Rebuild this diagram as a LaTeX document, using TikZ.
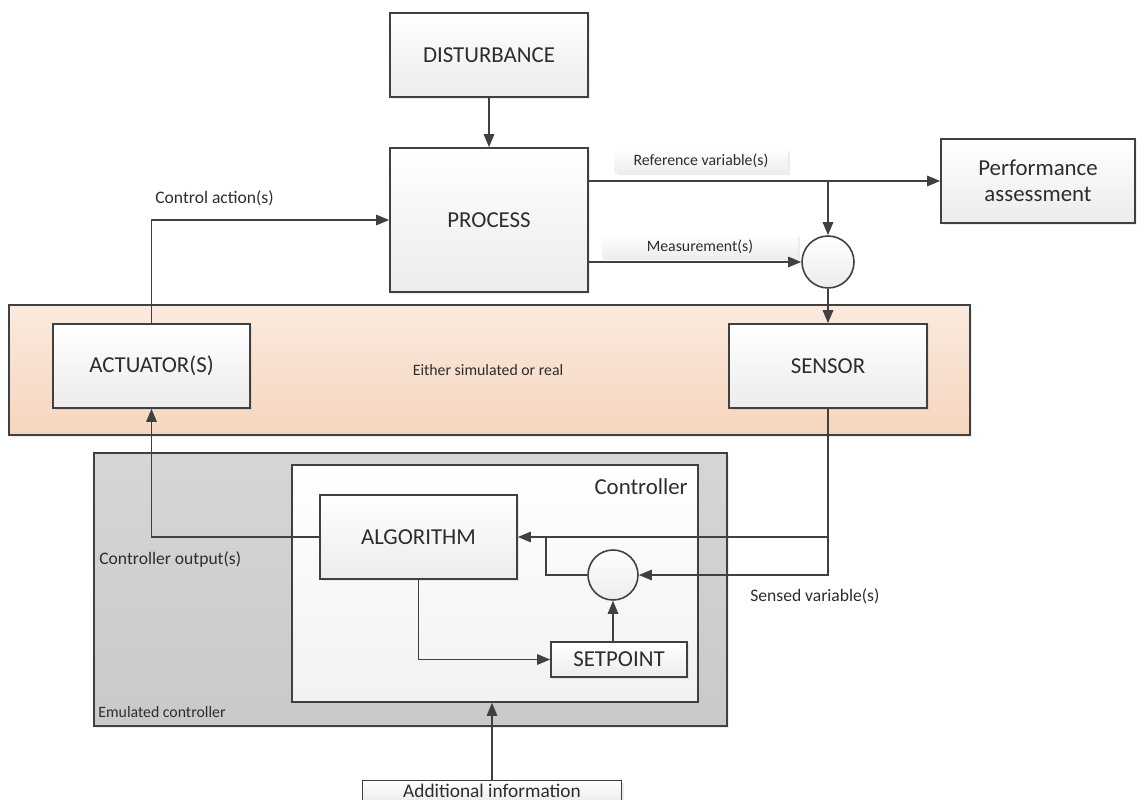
\documentclass[tikz,border=0pt]{standalone}
\usepackage{fontspec}
\setmainfont{Carlito}
\usetikzlibrary{positioning,calc,arrows.meta,shadows}
\definecolor{LineGrey}{RGB}{64,64,64}
\definecolor{TextGrey}{RGB}{45,45,45}
\definecolor{BandTop}{RGB}{250,234,222}
\definecolor{BandBot}{RGB}{246,213,190}
\definecolor{EmuTop}{RGB}{214,214,214}
\definecolor{EmuBot}{RGB}{201,201,201}
\definecolor{BoxBot}{RGB}{236,236,236}
\definecolor{TagGrey}{RGB}{238,238,238}
\tikzset{softshadow/.style={drop shadow={shadow xshift=1.2pt,shadow yshift=-1.2pt,opacity=0.15}},
blk/.style={draw=LineGrey,line width=0.9pt,top color=white,bottom color=BoxBot,text=TextGrey,font=\fontsize{13}{15}\selectfont,align=center,inner sep=2pt,softshadow},
sum/.style={circle,draw=LineGrey,line width=0.9pt,top color=white,bottom color=BoxBot,minimum size=1.04cm,inner sep=0pt},
tag/.style={top color=white,bottom color=TagGrey,text=TextGrey,font=\fontsize{9}{11}\selectfont,inner sep=0pt,softshadow},
lbl/.style={text=TextGrey,font=\fontsize{10}{12}\selectfont,inner sep=0pt},
wire/.style={draw=LineGrey,line width=0.9pt},
arr/.style={wire,-{Triangle[length=7.5pt,width=6pt]}}}

\begin{document}
\begin{tikzpicture}[x=0.02cm,y=-0.02cm]
\useasboundingbox (0,0) rectangle (1138,800);
% background regions
\draw[wire,top color=BandTop,bottom color=BandBot,softshadow] (9,305) rectangle (970,435);
\draw[wire,top color=EmuTop,bottom color=EmuBot,softshadow] (94,453) rectangle (727,726);
\node[draw=LineGrey,line width=0.9pt,top color=white,bottom color=BoxBot!70,minimum width=8.12cm,minimum height=4.74cm,inner sep=0pt] (ctrl) at (495,583.5) {};
% blocks
\node[blk,minimum width=3.96cm,minimum height=1.68cm] (dist) at (489,55) {DISTURBANCE};
\node[blk,minimum width=3.96cm,minimum height=2.88cm] (proc) at (489,220) {PROCESS};
\node[blk,minimum width=3.88cm,minimum height=1.68cm] (perf) at (1038,181) {Performance\\assessment};
\node[blk,minimum width=3.94cm,minimum height=1.68cm] (act) at (151.5,366) {ACTUATOR(S)};
\node[blk,minimum width=3.96cm,minimum height=1.68cm] (sens) at (828,366) {SENSOR};
\node[blk,minimum width=3.94cm,minimum height=1.68cm] (alg) at (418.5,537) {ALGORITHM};
\node[blk,minimum width=2.72cm,minimum height=0.7cm] (setp) at (619,659.5) {SETPOINT};
\node[blk,font=\fontsize{11}{13}\selectfont,minimum width=5.18cm,minimum height=0.42cm,inner sep=0pt] (info) at (492,791) {Additional information};
\node[sum] (sumA) at (828,262) {};
\node[sum,minimum size=1cm] (sumB) at (613,575) {};
\coordinate (jn) at (546,537);
% labels
\node[tag,minimum width=3.46cm,minimum height=0.48cm] (tref) at (701,161) {Reference variable(s)};
\node[tag,minimum width=3.92cm,minimum height=0.46cm] (tmeas) at (700,246.5) {Measurement(s)};
\node[lbl,anchor=west] (lact) at (155,198) {Control action(s)};
\node[lbl,font=\fontsize{9}{11}\selectfont] (lband) at (488,370) {Either simulated or real};
\node[lbl,font=\fontsize{13}{15}\selectfont,anchor=east] (lctrl) at (688,487) {Controller};
\node[lbl,anchor=west] (lout) at (99,559) {Controller output(s)};
\node[lbl,font=\fontsize{9}{11}\selectfont,anchor=west] (lemu) at (98,712) {Emulated controller};
\node[lbl,anchor=west] (lsens) at (750,596) {Sensed variable(s)};
% connectors
\draw[arr] (dist.south) -- (proc.north);
\draw[arr] (act.north) |- (proc.west);
\draw[arr] (proc.east |- perf.west) -- (perf.west);
\draw[arr] (sumA.north |- perf.west) -- (sumA.north);
\draw[arr] (proc.east |- sumA.west) -- (sumA.west);
\draw[arr] (sumA.south) -- (sens.north);
\draw[arr] (sens.south) |- (sumB.east);
\draw[arr] (sens.south |- alg.east) -- (alg.east);
\draw[wire] (sumB.west) -| (jn);
\draw[arr] (sumB.south |- setp.north) -- (sumB.south);
\draw[arr] (alg.south) |- (setp.west);
\draw[arr] (alg.west) -| (act.south);
\draw[arr] (info.north) -- (info.north |- ctrl.south);
\end{tikzpicture}
\end{document}
